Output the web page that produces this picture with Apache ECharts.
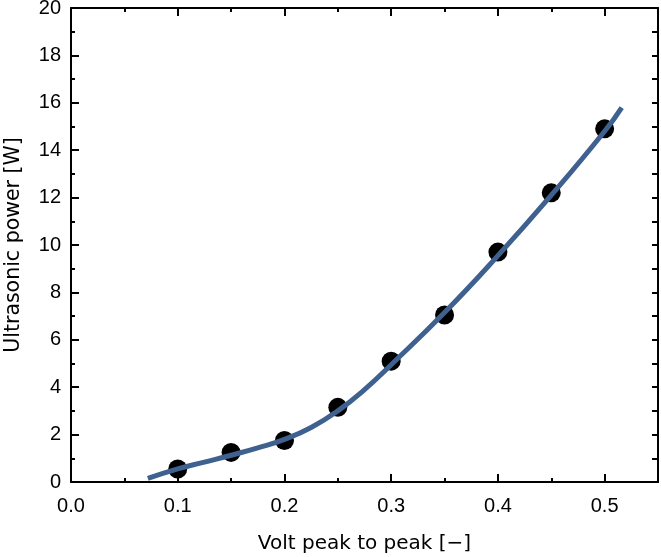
<!DOCTYPE html>
<html>
<head>
<meta charset="utf-8">
<script src="https://cdn.jsdelivr.net/npm/echarts@6/dist/echarts.min.js"></script>
<style>
html,body{margin:0;padding:0;background:#fff;}
#c{width:661px;height:557px;}
</style>
</head>
<body>
<div id="c"></div>
<script>
// Measured points
var measX = [0.10, 0.15, 0.20, 0.25, 0.30, 0.35, 0.40, 0.45, 0.50];
var measY = [0.55, 1.25, 1.75, 3.15, 5.10, 7.05, 9.70, 12.20, 14.90];
// Fitted curve
var fitX = [0.072, 0.10, 0.125, 0.15, 0.175, 0.20, 0.225, 0.25, 0.275, 0.30, 0.35, 0.40, 0.45, 0.50, 0.516];
var fitY = [0.15, 0.55, 0.84, 1.13, 1.44, 1.80, 2.30, 3.00, 3.90, 4.95, 7.15, 9.55, 12.10, 14.80, 15.80];
var xTicks = [0.0, 0.1, 0.2, 0.3, 0.4, 0.5];
var yTicks = [0, 2, 4, 6, 8, 10, 12, 14, 16, 18, 20];

var TICKFONT = '"Liberation Sans", Arial, sans-serif';
var NAMEFONT = '"DejaVu Sans", sans-serif';
var chart = echarts.init(document.getElementById('c'), null, {renderer: 'canvas'});

function pairs(xs, ys) { return xs.map(function (x, i) { return [x, ys[i]]; }); }

var lineStyleAxis = {color: '#000', width: 2};
chart.setOption({
  animation: false,
  backgroundColor: '#fff',
  grid: {left: 71, right: 3, top: 8, bottom: 75, containLabel: false, outerBoundsMode: 'none'},
  xAxis: [{
    type: 'value', min: 0, max: 0.55, interval: 0.1, position: 'bottom',
    name: 'Volt peak to peak [\u2212]', nameLocation: 'middle', nameGap: 52,
    nameTextStyle: {fontFamily: NAMEFONT, fontSize: 20, color: '#000'},
    axisLine: {show: true, onZero: false, lineStyle: lineStyleAxis},
    axisTick: {show: true, inside: true, length: 8, lineStyle: {color: '#000', width: 2}},
    minorTick: {show: true, splitNumber: 2, length: 4, lineStyle: {color: '#000', width: 2}},
    axisLabel: {fontFamily: TICKFONT, fontSize: 20, color: '#000', margin: 14,
      formatter: function (v) { var r = Math.round(v * 10) / 10; return xTicks.indexOf(r) >= 0 && v <= 0.5 ? r.toFixed(1) : ''; }},
    splitLine: {show: false}
  }, {
    type: 'value', min: 0, max: 0.55, interval: 0.1, position: 'top',
    axisLine: {show: true, onZero: false, lineStyle: lineStyleAxis},
    axisTick: {show: true, inside: true, length: 8, lineStyle: {color: '#000', width: 2}},
    minorTick: {show: true, splitNumber: 2, length: 4, lineStyle: {color: '#000', width: 2}},
    axisLabel: {show: false}, splitLine: {show: false}
  }],
  yAxis: [{
    type: 'value', min: 0, max: 20, interval: 2, position: 'left',
    name: 'Ultrasonic power [W]', nameLocation: 'middle', nameGap: 47,
    nameTextStyle: {fontFamily: NAMEFONT, fontSize: 20.5, color: '#000'},
    axisLine: {show: true, onZero: false, lineStyle: lineStyleAxis},
    axisTick: {show: true, inside: true, length: 8, lineStyle: {color: '#000', width: 2}},
    minorTick: {show: true, splitNumber: 2, length: 4, lineStyle: {color: '#000', width: 2}},
    axisLabel: {fontFamily: TICKFONT, fontSize: 20, color: '#000', margin: 10,
      formatter: function (v) { return yTicks.indexOf(v) >= 0 ? String(v) : ''; }},
    splitLine: {show: false}
  }, {
    type: 'value', min: 0, max: 20, interval: 2, position: 'right',
    axisLine: {show: true, onZero: false, lineStyle: lineStyleAxis},
    axisTick: {show: true, inside: true, length: 6, lineStyle: {color: '#000', width: 2}},
    minorTick: {show: true, splitNumber: 2, length: 6, lineStyle: {color: '#000', width: 2}},
    axisLabel: {show: false}, splitLine: {show: false}
  }],
  series: [{
    type: 'scatter', data: pairs(measX, measY), symbol: 'circle', symbolSize: 19,
    itemStyle: {color: '#000', opacity: 1}, z: 2
  }, {
    type: 'line', data: pairs(fitX, fitY), smooth: 0.5, showSymbol: false,
    lineStyle: {color: '#3f6190', width: 5}, z: 3
  }]
});
</script>
</body>
</html>
